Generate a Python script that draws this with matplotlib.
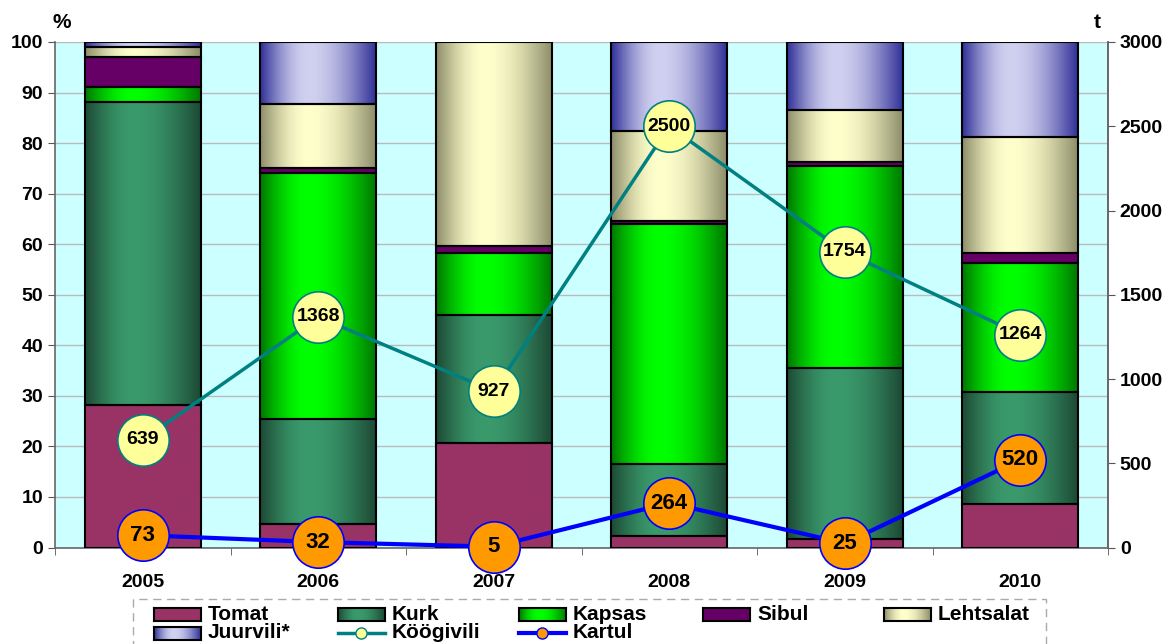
import numpy as np
import matplotlib
matplotlib.use("Agg")
import matplotlib.pyplot as plt
from matplotlib.colors import to_rgb
from matplotlib.patches import Rectangle
from matplotlib.lines import Line2D

plt.rcParams['font.family'] = ['Liberation Sans', 'DejaVu Sans']
plt.rcParams['font.weight'] = 'bold'

# --- data ---
years = ['2005', '2006', '2007', '2008', '2009', '2010']
tomat = [28.1, 4.7, 20.6, 2.2, 1.7, 8.6]
kurk = [60.0, 20.8, 25.3, 14.3, 33.9, 22.2]
kapsas = [3.0, 48.6, 12.3, 47.5, 39.8, 25.5]
sibul = [6.0, 0.9, 1.4, 0.5, 0.9, 1.9]
lehtsalat = [2.0, 12.7, 40.4, 17.8, 10.3, 23.0]
juurvili = [0.9, 12.3, 0.0, 17.7, 13.4, 18.8]
koogivili = [639, 1368, 927, 2500, 1754, 1264]
kartul = [73, 32, 5, 264, 25, 520]

series = [
    ('Tomat', tomat, '#993366', '#993366'),
    ('Kurk', kurk, '#1d4a35', '#3a9a6c'),
    ('Kapsas', kapsas, '#007a00', '#00ff00'),
    ('Sibul', sibul, '#660066', '#660066'),
    ('Lehtsalat', lehtsalat, '#8f8f6c', '#ffffcc'),
    ('Juurvili*', juurvili, '#333399', '#d0d0f0'),
]

W, H = 1168, 644


def gradient(edge, center, n=64, peak=0.42):
    # horizontal shading: dark edges, light band a bit left of the middle
    e = np.array(to_rgb(edge))
    c = np.array(to_rgb(center))
    xx = np.linspace(0, 1, n)
    t = np.where(xx < peak, xx / peak, (1 - xx) / (1 - peak))
    t = np.sin(t * np.pi / 2)
    return (e[None, :] * (1 - t[:, None]) + c[None, :] * t[:, None])[None, :, :]


fig = plt.figure(figsize=(W / 100, H / 100), dpi=100)
ax = fig.add_axes([55 / W, (H - 547.5) / H, (1108 - 55) / W, (547.5 - 42) / H])
ax.set_facecolor('#ccffff')

x = np.arange(len(years))
width = 0.66
bottom = np.zeros(len(years))
for name, vals, edge, center in series:
    img = gradient(edge, center)
    for i, v in enumerate(vals):
        if v <= 0:
            continue
        ax.imshow(img, extent=[x[i] - width / 2, x[i] + width / 2, bottom[i], bottom[i] + v],
                  aspect='auto', zorder=2, interpolation='bilinear')
        ax.bar(x[i], v, width, bottom=bottom[i], facecolor='none',
               edgecolor='black', linewidth=1.5, zorder=3)
    bottom += np.array(vals)

ax.set_xlim(-0.5, len(years) - 0.5)
ax.set_ylim(0, 100)
ax.set_yticks(range(0, 101, 10))
ax.yaxis.grid(True, color='#bbbbbb', linewidth=1)
ax.set_axisbelow(True)
ax.set_xticks(x)
ax.set_xticklabels(years, fontsize=14, fontweight='bold')
ax.set_xticks(np.arange(-0.5, len(years), 1), minor=True)
ax.tick_params(axis='x', which='major', length=0, pad=19)
ax.tick_params(axis='x', which='minor', length=5, color='#555555')
ax.tick_params(axis='y', labelsize=14, length=5, color='#555555')
for lbl in ax.get_yticklabels():
    lbl.set_fontweight('bold')
ax.spines['top'].set_visible(False)
for s in ['left', 'bottom', 'right']:
    ax.spines[s].set_color('#666666')
    ax.spines[s].set_linewidth(1.2)

# tonnes on the right axis
ax2 = ax.twinx()
ax2.set_ylim(0, 3000)
ax2.set_yticks(range(0, 3001, 500))
ax2.tick_params(axis='y', labelsize=14, length=5, color='#555555')
for lbl in ax2.get_yticklabels():
    lbl.set_fontweight('bold')
for s in ['top', 'left', 'bottom']:
    ax2.spines[s].set_visible(False)
ax2.spines['right'].set_color('#666666')
ax2.spines['right'].set_linewidth(1.2)

ax2.plot(x, koogivili, color='#008080', linewidth=2.5, marker='o', markersize=37,
         markerfacecolor='#ffff99', markeredgecolor='#008080', markeredgewidth=1.2,
         zorder=5, clip_on=False)
ax2.plot(x, kartul, color='#0000ff', linewidth=3, marker='o', markersize=37,
         markerfacecolor='#ff9900', markeredgecolor='#0000ff', markeredgewidth=1.2,
         zorder=5, clip_on=False)
for xi, v in zip(x, koogivili):
    ax2.text(xi, v, str(v), ha='center', va='center', fontsize=14, fontweight='bold', zorder=6)
for xi, v in zip(x, kartul):
    ax2.text(xi, v, str(v), ha='center', va='center', fontsize=16, fontweight='bold', zorder=6)

fig.text(62 / W, 1 - 22 / H, '%', ha='center', va='center', fontsize=15, fontweight='bold')
fig.text(1097 / W, 1 - 22 / H, 't', ha='center', va='center', fontsize=15, fontweight='bold')

# legend, laid out like the Excel one (equal column pitch)
fig.add_artist(Rectangle((133 / W, -0.05), (1046 - 133) / W, (H - 599) / H + 0.05,
                         transform=fig.transFigure, facecolor='white', edgecolor='#aaaaaa',
                         linestyle=(0, (6, 4)), linewidth=1, zorder=1))
col_x = [154, 338, 519, 703, 884]
row_y = [614, 633]
for k, (name, vals, edge, center) in enumerate(series):
    r, c = divmod(k, 5)
    px, py = col_x[c], row_y[r]
    img_ax = fig.add_axes([px / W, 1 - (py + 6.5) / H, 47 / W, 13 / H], zorder=2)
    img_ax.imshow(gradient(edge, center), aspect='auto', interpolation='bilinear')
    img_ax.set_xticks([])
    img_ax.set_yticks([])
    for sp in img_ax.spines.values():
        sp.set_linewidth(1.5)
        sp.set_color('black')
    fig.text((px + 54) / W, 1 - py / H, name, ha='left', va='center', fontsize=15,
             fontweight='bold', zorder=4)

line_items = [('Köögivili', '#008080', '#ffff99', 2.5), ('Kartul', '#0000ff', '#ff9900', 3)]
for j, (name, lc, mfc, lw) in enumerate(line_items):
    px, py = col_x[j + 1], row_y[1]
    fig.add_artist(Line2D([px / W, (px + 47) / W], [1 - py / H, 1 - py / H],
                          transform=fig.transFigure, color=lc, linewidth=lw, zorder=3))
    fig.add_artist(Line2D([(px + 23) / W], [1 - py / H], transform=fig.transFigure,
                          marker='o', markersize=8, markerfacecolor=mfc, markeredgecolor=lc,
                          linestyle='none', zorder=4))
    fig.text((px + 54) / W, 1 - py / H, name, ha='left', va='center', fontsize=15,
             fontweight='bold', zorder=4)

fig.savefig('out.png', dpi=100)
